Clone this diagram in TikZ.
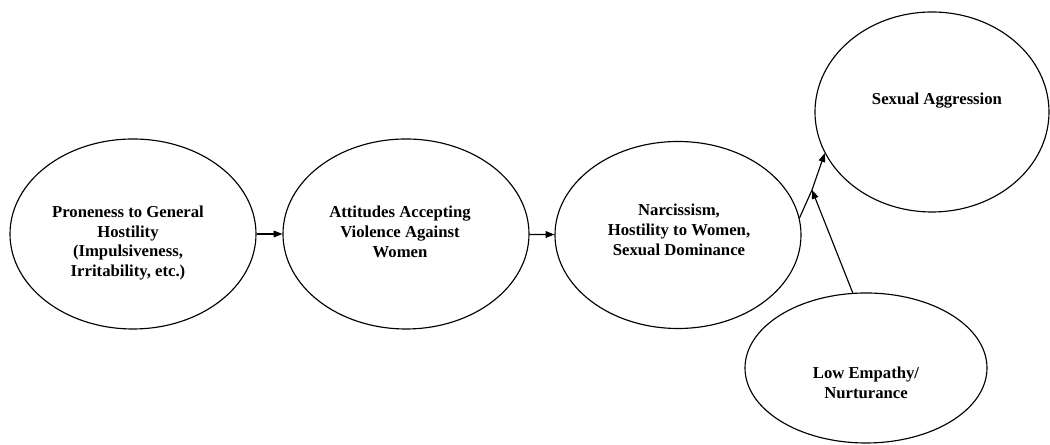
\documentclass[tikz,border=0pt]{standalone}
\usepackage{fontspec}
\setmainfont{Liberation Serif}
\usetikzlibrary{shapes.geometric,arrows.meta}

\begin{document}
\begin{tikzpicture}[
		factor/.style={ellipse, draw, line width=0.65pt, inner sep=0pt},
		txt/.style={align=center, font=\fontsize{9.5}{11.3}\selectfont\bfseries},
		arr/.style={line width=0.65pt, -{Triangle[length=5pt,width=3.8pt]}}
	]
		\useasboundingbox (0, 0) rectangle (21, 8.9);
		% ellipses
		\node [factor, minimum width=4.92cm, minimum height=3.8cm] (hostility) at (2.66, 4.22) {};
		\node [factor, minimum width=4.92cm, minimum height=3.8cm] (attitudes) at (8.12, 4.22) {};
		\node [factor, minimum width=4.92cm, minimum height=3.74cm] (narcissism) at (13.56, 4.20) {};
		\node [factor, minimum width=4.68cm, minimum height=4.0cm] (aggression) at (18.64, 6.66) {};
		\node [factor, minimum width=4.84cm, minimum height=3.0cm] (empathy) at (17.32, 1.54) {};
		% labels
		\node [txt] (hostility text) at (2.56, 4.04) {Proneness to General\\Hostility\\(Impulsiveness,\\Irritability, etc.)};
		\node [txt] (attitudes text) at (8.0, 4.26) {Attitudes Accepting\\Violence Against\\Women};
		\node [txt] (narcissism text) at (13.58, 4.30) {Narcissism,\\Hostility to Women,\\Sexual Dominance};
		\node [txt] (aggression text) at (18.74, 6.88) {Sexual Aggression};
		\node [txt] (empathy text) at (17.32, 1.24) {Low Empathy/\\Nurturance};
		% paths
		\coordinate (J) at (16.24, 5.10);
		\draw [arr] (hostility) -- (attitudes);
		\draw [arr] (attitudes) -- (narcissism);
		\draw [arr] (narcissism.8) -- (J) -- (aggression.201);
		\draw [arr] (empathy.100) -- (J);
	\end{tikzpicture}
\end{document}
